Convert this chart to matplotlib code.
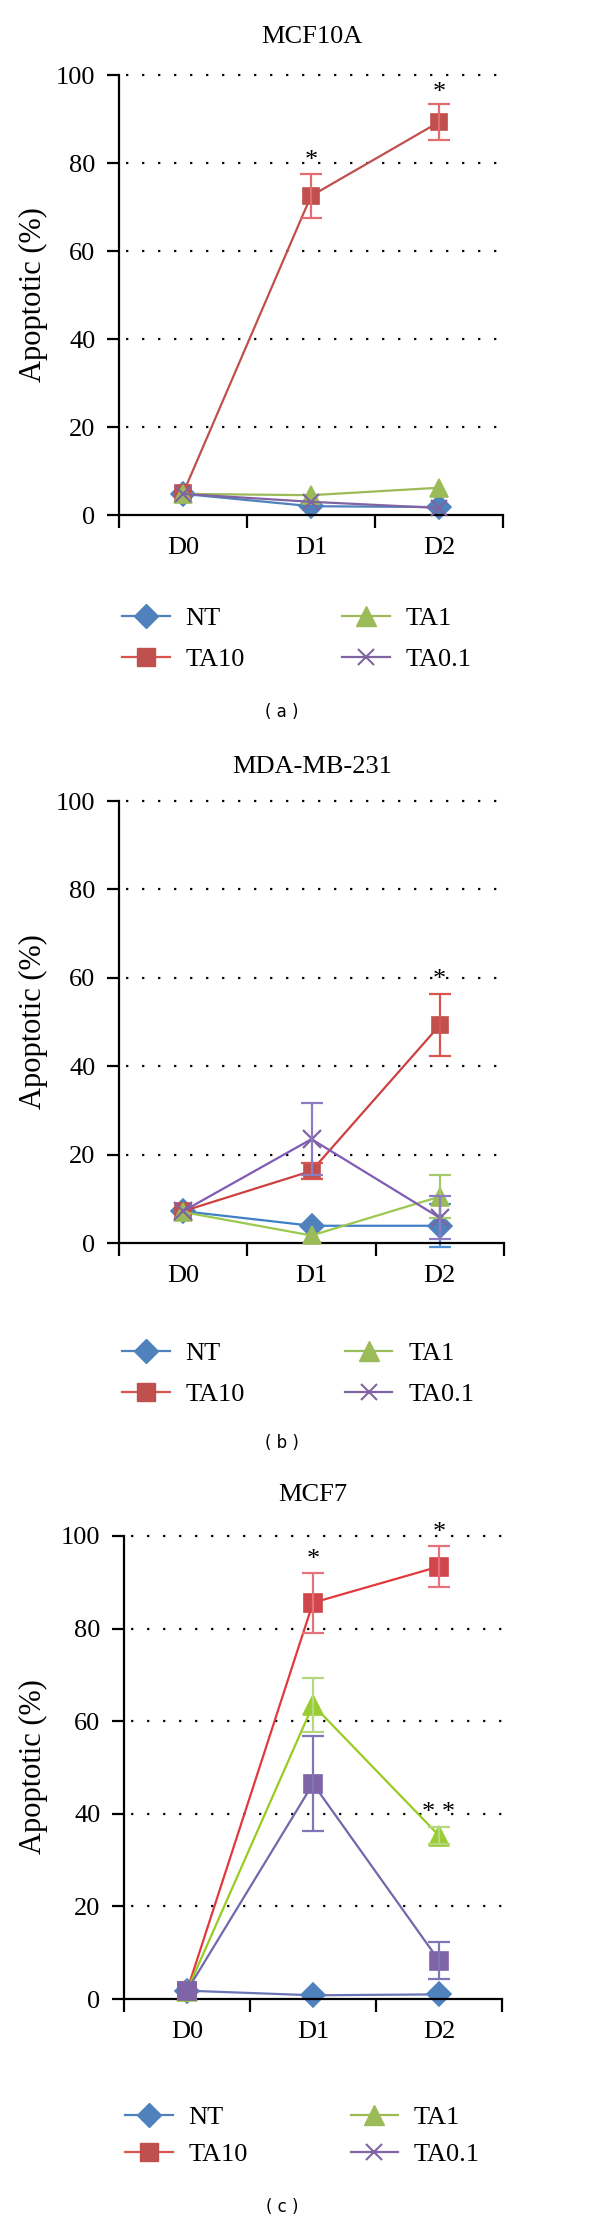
import numpy as np
import matplotlib
matplotlib.use("Agg")
import matplotlib.pyplot as plt
from matplotlib.lines import Line2D

plt.rcParams['font.family'] = ['Liberation Serif', 'DejaVu Serif']

W, H = 600, 2221
nan = np.nan

days = ['D0', 'D1', 'D2']
series = ['NT', 'TA10', 'TA1', 'TA0.1']

# Panel (a) MCF10A
a_NT = [4.8, 2.0, 1.8]
a_TA10 = [4.9, 72.5, 89.3]
a_TA10_err = [nan, 5.0, 4.0]
a_TA1 = [4.8, 4.5, 6.2]
a_TA01 = [4.8, 3.0, 1.6]

# Panel (b) MDA-MB-231
b_NT = [7.2, 3.9, 3.9]
b_NT_err = [nan, nan, 4.9]
b_TA10 = [7.2, 16.3, 49.3]
b_TA10_err = [nan, 1.8, 7.0]
b_TA1 = [7.0, 1.7, 10.5]
b_TA1_err = [nan, nan, 4.9]
b_TA01 = [7.2, 23.5, 5.7]
b_TA01_err = [nan, 8.2, 4.9]

# Panel (c) MCF7
c_NT = [1.8, 0.8, 1.0]
c_TA10 = [1.8, 85.6, 93.4]
c_TA10_err = [nan, 6.5, 4.5]
c_TA1 = [1.8, 63.5, 35.3]
c_TA1_err = [nan, 5.9, 1.8]
c_TA01 = [1.8, 46.5, 8.3]
c_TA01_err = [nan, 10.3, 4.0]

# significance marks (day index, y value, text)
a_sig = [(1, 80.4, '*'), (2, 95.9, '*')]
b_sig = [(2, 59.5, '*')]
c_sig = [(1, 94.9, '*'), (2, 100.7, '*'), (2, 40.1, '* *')]

titles = ['MCF10A', 'MDA-MB-231', 'MCF7']
sublabels = ['( a )', '( b )', '( c )']
yticks = [0, 20, 40, 60, 80, 100]

BLUE = '#4F81BD'
RED = '#C0504D'
GREEN = '#9BBB59'
PURPLE = '#8064A2'

fig = plt.figure(figsize=(W / 100, H / 100), dpi=100)


def add_ax(l, r, top, bottom):
    return fig.add_axes([l / W, 1 - bottom / H, (r - l) / W, (bottom - top) / H])


def fx(x):
    return x / W


def fy(y):
    return 1 - y / H


def style_ax(ax):
    ax.set_xlim(-0.5, 2.5)
    ax.set_ylim(0, 100)
    for s in ['top', 'right']:
        ax.spines[s].set_visible(False)
    for s in ['left', 'bottom']:
        ax.spines[s].set_linewidth(1.6)
    ax.set_yticks(yticks)
    ax.set_yticklabels([str(t) for t in yticks])
    ax.set_xticks(range(len(days)))
    ax.set_xticklabels(days)
    ax.set_xticks([-0.5, 0.5, 1.5, 2.5], minor=True)
    ax.tick_params(axis='y', direction='out', length=9, width=1.6, labelsize=19, pad=8)
    ax.tick_params(axis='x', which='major', length=0, labelsize=19, pad=16)
    ax.tick_params(axis='x', which='minor', direction='out', length=9, width=1.6)
    for yv in yticks[1:]:
        ax.axhline(yv, color='black', lw=1.6, ls=(4, (1, 6.2)), clip_on=False, zorder=0.5)


def draw_series(ax, y, err, color, marker, ms, mfc, ecolor, lw=1.6, mew=1.2, z=2):
    x = np.arange(len(days))
    if err is not None:
        ax.errorbar(x, y, yerr=err, fmt='none', ecolor=ecolor, elinewidth=1.6,
                    capsize=8, capthick=1.6, clip_on=False, zorder=z + 0.5)
    ax.plot(x, y, color=color, lw=lw, marker=marker, ms=ms, mfc=mfc, mec=mfc,
            mew=mew, clip_on=False, zorder=z)


def add_sig(ax, sig):
    for d, yv, t in sig:
        ax.text(d, yv, t, ha='center', va='center', fontsize=19, clip_on=False)


def add_legend(x0, ytop, lc, colspace, spacing):
    handles = [
        Line2D([], [], color=lc[0], lw=1.6, marker='D', ms=12, mfc=BLUE, mec=BLUE),
        Line2D([], [], color=lc[1], lw=1.6, marker='s', ms=13, mfc=RED, mec=RED),
        Line2D([], [], color=lc[2], lw=1.6, marker='^', ms=14, mfc=GREEN, mec=GREEN),
        Line2D([], [], color=lc[3], lw=1.6, marker='x', ms=12, mew=1.5, mfc=PURPLE, mec=PURPLE),
    ]
    fig.legend(handles, series, loc='upper left', bbox_to_anchor=(fx(x0), fy(ytop)),
               bbox_transform=fig.transFigure, ncol=2, frameon=False, fontsize=19,
               handlelength=1.8, handletextpad=0.6, columnspacing=colspace,
               labelspacing=spacing, borderpad=0, borderaxespad=0)


# ---------- Panel (a)
axA = add_ax(119, 503, 75, 515)
style_ax(axA)
draw_series(axA, a_NT, None, BLUE, 'D', 12, BLUE, BLUE, z=2)
draw_series(axA, a_TA10, a_TA10_err, RED, 's', 12, RED, '#E36C6F', z=3)
draw_series(axA, a_TA1, None, GREEN, '^', 13, GREEN, GREEN, z=4)
draw_series(axA, a_TA01, None, PURPLE, 'x', 11, PURPLE, PURPLE, mew=1.6, z=5)
add_sig(axA, a_sig)
fig.text(fx(312), fy(37), titles[0], ha='center', va='center', fontsize=19)
fig.text(fx(33), fy(295), 'Apoptotic (%)', rotation=90, ha='center', va='center', fontsize=22)
add_legend(122, 607, [BLUE, '#D9534F', GREEN, PURPLE], 3.7, 0.65)
fig.text(fx(282), fy(712), sublabels[0], ha='center', va='center', fontsize=12,
         family=['DejaVu Sans'])

# ---------- Panel (b)
axB = add_ax(119, 504, 801, 1243)
style_ax(axB)
draw_series(axB, b_NT, b_NT_err, '#3F7FC4', 'D', 12, BLUE, '#4A90D9', z=2)
draw_series(axB, b_TA10, b_TA10_err, '#CC4040', 's', 12, RED, '#D9534F', z=3)
draw_series(axB, b_TA1, b_TA1_err, '#9BC850', '^', 13, GREEN, '#A5C96A', z=4)
draw_series(axB, b_TA01, b_TA01_err, '#7E5CB5', 'x', 13, PURPLE, '#8E7CC3', mew=1.6, z=5)
add_sig(axB, b_sig)
fig.text(fx(312), fy(767), titles[1], ha='center', va='center', fontsize=19)
fig.text(fx(33), fy(1022), 'Apoptotic (%)', rotation=90, ha='center', va='center', fontsize=22)
add_legend(122, 1342, [BLUE, '#D9534F', GREEN, PURPLE], 3.8, 0.65)
fig.text(fx(282), fy(1443), sublabels[1], ha='center', va='center', fontsize=12,
         family=['DejaVu Sans'])

# ---------- Panel (c)
axC = add_ax(124, 502, 1536, 1999)
style_ax(axC)
draw_series(axC, c_NT, None, '#6C74B8', 'D', 12, BLUE, BLUE, z=2)
draw_series(axC, c_TA10, c_TA10_err, '#E0393E', 's', 13, '#D0464A', '#E5727A', z=3)
draw_series(axC, c_TA1, c_TA1_err, '#99CC22', '^', 14, '#9ACD32', '#B5D77E', z=4)
draw_series(axC, c_TA01, c_TA01_err, '#6E6AAE', 's', 13, '#8064A8', '#7D78B5', z=5)
add_sig(axC, c_sig)
fig.text(fx(313), fy(1495), titles[2], ha='center', va='center', fontsize=19)
fig.text(fx(33), fy(1767), 'Apoptotic (%)', rotation=90, ha='center', va='center', fontsize=22)
add_legend(125, 2106, [BLUE, '#D9534F', GREEN, PURPLE], 3.9, 0.5)
fig.text(fx(282), fy(2207), sublabels[2], ha='center', va='center', fontsize=12,
         family=['DejaVu Sans'])

fig.savefig('out.png', dpi=100, facecolor='white')
